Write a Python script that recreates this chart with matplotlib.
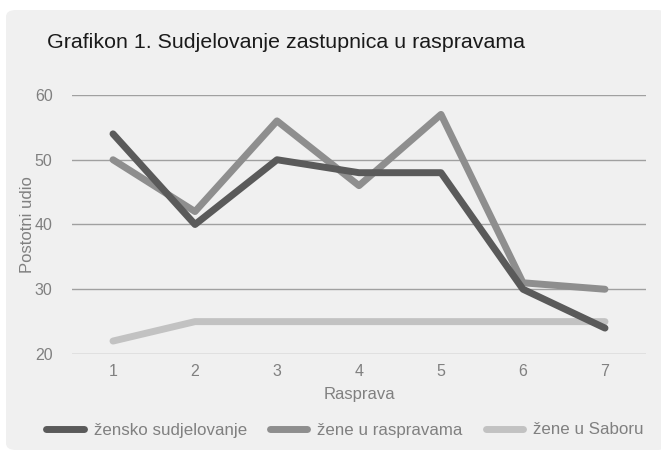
import matplotlib
matplotlib.use('Agg')
import matplotlib.pyplot as plt
from matplotlib.patches import FancyBboxPatch

plt.rcParams['font.family'] = ['Liberation Sans', 'DejaVu Sans']

rasprava = [1, 2, 3, 4, 5, 6, 7]
zensko_sudjelovanje = [54, 40, 50, 48, 48, 30, 24]
zene_u_raspravama = [50, 42, 56, 46, 57, 31, 30]
zene_u_saboru = [22, 25, 25, 25, 25, 25, 25]

fig = plt.figure(figsize=(6.61, 4.5), dpi=100)
fig.patch.set_facecolor('white')
panel = FancyBboxPatch((6 / 661, 0), 1.0, 1 - 10 / 450,
                       boxstyle='round,pad=0,rounding_size=0.015',
                       transform=fig.transFigure, facecolor='#f0f0f0',
                       edgecolor='none', zorder=-10)
fig.patches.append(panel)

ax = fig.add_axes([72 / 661, 1 - 354 / 450, (646 - 72) / 661, (354 - 95) / 450])
ax.set_facecolor('none')

lw = 5
ax.plot(rasprava, zensko_sudjelovanje, color='#5a5a5a', lw=lw, solid_capstyle='round',
        solid_joinstyle='round', label='žensko sudjelovanje', zorder=4)
ax.plot(rasprava, zene_u_raspravama, color='#8e8e8e', lw=lw, solid_capstyle='round',
        solid_joinstyle='round', label='žene u raspravama', zorder=3)
ax.plot(rasprava, zene_u_saboru, color='#c2c2c2', lw=lw, solid_capstyle='round',
        solid_joinstyle='round', label='žene u Saboru', zorder=2)

ax.set_xlim(0.5, 7.5)
ax.set_ylim(20, 60)
ax.set_yticks([20, 30, 40, 50, 60])
ax.set_xticks(rasprava)
ax.grid(axis='y', color='#a0a0a0', lw=1)
ax.set_axisbelow(True)
for s in ax.spines.values():
    s.set_visible(False)
ax.tick_params(length=0, colors='#808080', labelsize=11.5, pad=7)
ax.tick_params(axis='y', pad=14)
ax.set_xlabel('Rasprava', color='#808080', fontsize=12, labelpad=6)
ax.set_ylabel('Postotni udio', color='#808080', fontsize=12, labelpad=0)

fig.text(47 / 661, 1 - 42 / 450, 'Grafikon 1. Sudjelovanje zastupnica u raspravama',
         fontsize=15.4, color='#1a1a1a', va='center', ha='left')

leg = fig.legend(loc='center', bbox_to_anchor=(0.522, 1 - 430 / 450), ncol=3,
                 frameon=False, fontsize=12.2, handlelength=2.2, columnspacing=1.35,
                 handletextpad=0.6, labelcolor='#808080')

fig.savefig('out.png', dpi=100)
